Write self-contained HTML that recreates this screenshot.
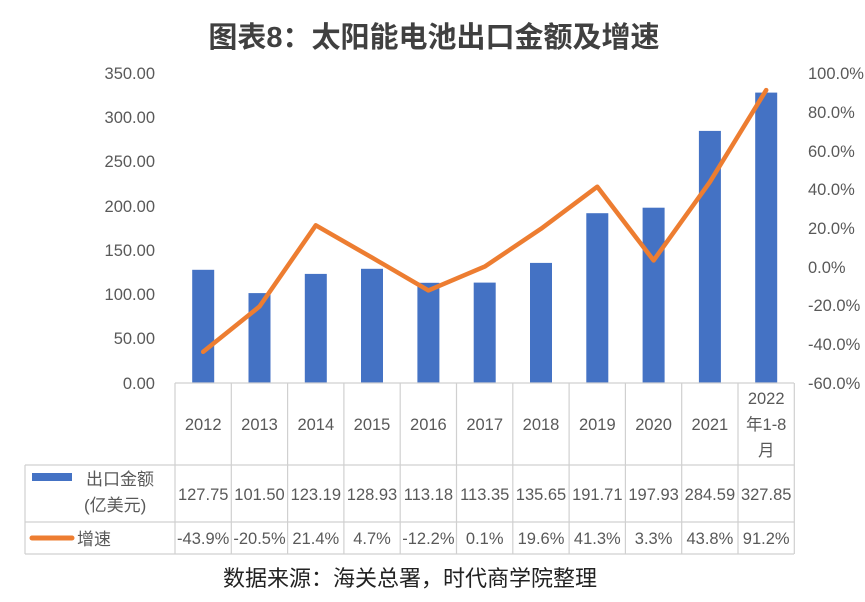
<!DOCTYPE html>
<html><head><meta charset="utf-8"><style>
body{margin:0;background:#fff;}
svg{display:block;font-family:"Liberation Sans","Noto Sans CJK SC",sans-serif;}
</style></head><body>
<svg width="865" height="602" viewBox="0 0 865 602">
<text x="434" y="47" text-anchor="middle" font-size="29" font-weight="bold" fill="#404040">图表8：太阳能电池出口金额及增速</text>
<g font-size="16.5" fill="#595959" text-anchor="end">
<text x="155" y="79">350.00</text><text x="155" y="123">300.00</text><text x="155" y="167">250.00</text><text x="155" y="212">200.00</text><text x="155" y="256">150.00</text><text x="155" y="300">100.00</text><text x="155" y="344">50.00</text><text x="155" y="389">0.00</text>
</g>
<g font-size="16.5" fill="#595959" text-anchor="start">
<text x="808" y="79">100.0%</text><text x="808" y="118">80.0%</text><text x="808" y="157">60.0%</text><text x="808" y="195">40.0%</text><text x="808" y="234">20.0%</text><text x="808" y="273">0.0%</text><text x="808" y="311">-20.0%</text><text x="808" y="350">-40.0%</text><text x="808" y="389">-60.0%</text>
</g>
<g fill="#4472c4">
<rect x="192.2" y="269.8" width="22" height="113.2"/>
<rect x="248.5" y="293.1" width="22" height="89.9"/>
<rect x="304.8" y="273.9" width="22" height="109.1"/>
<rect x="361" y="268.8" width="22" height="114.2"/>
<rect x="417.4" y="282.8" width="22" height="100.2"/>
<rect x="473.7" y="282.6" width="22" height="100.4"/>
<rect x="530" y="262.9" width="22" height="120.1"/>
<rect x="586.3" y="213.2" width="22" height="169.8"/>
<rect x="642.6" y="207.7" width="22" height="175.3"/>
<rect x="698.9" y="130.9" width="22" height="252.1"/>
<rect x="755.2" y="92.6" width="22" height="290.4"/>
</g>
<polyline fill="none" stroke="#ed7d31" stroke-width="4.5" stroke-linejoin="round" stroke-linecap="round" points="203.2,351.8 259.5,306.5 315.8,225.3 372,257.6 428.4,290.4 484.7,266.6 541,228.8 597.3,186.7 653.6,260.4 709.9,181.9 766.2,90.1"/>
<g stroke="#d0d0d0" stroke-width="1.2">
<line x1="175" y1="383" x2="794" y2="383"/>
<line x1="25" y1="465" x2="794" y2="465"/>
<line x1="25" y1="522" x2="794" y2="522"/>
<line x1="25" y1="554" x2="794" y2="554"/>
<line x1="25" y1="465" x2="25" y2="554"/>
<line x1="175" y1="383" x2="175" y2="554"/><line x1="231.3" y1="383" x2="231.3" y2="554"/><line x1="287.6" y1="383" x2="287.6" y2="554"/><line x1="343.9" y1="383" x2="343.9" y2="554"/><line x1="400.2" y1="383" x2="400.2" y2="554"/><line x1="456.5" y1="383" x2="456.5" y2="554"/><line x1="512.8" y1="383" x2="512.8" y2="554"/><line x1="569.1" y1="383" x2="569.1" y2="554"/><line x1="625.4" y1="383" x2="625.4" y2="554"/><line x1="681.7" y1="383" x2="681.7" y2="554"/><line x1="738" y1="383" x2="738" y2="554"/><line x1="794.3" y1="383" x2="794.3" y2="554"/>
</g>
<g font-size="16.5" fill="#595959" text-anchor="middle">
<text x="203.2" y="430">2012</text><text x="259.5" y="430">2013</text><text x="315.8" y="430">2014</text><text x="372" y="430">2015</text><text x="428.4" y="430">2016</text><text x="484.7" y="430">2017</text><text x="541" y="430">2018</text><text x="597.3" y="430">2019</text><text x="653.6" y="430">2020</text><text x="709.9" y="430">2021</text>
<text x="766.2" y="404">2022</text><text x="766.2" y="430">年1-8</text><text x="766.2" y="456">月</text>
<text x="203.2" y="500">127.75</text><text x="259.5" y="500">101.50</text><text x="315.8" y="500">123.19</text><text x="372" y="500">128.93</text><text x="428.4" y="500">113.18</text><text x="484.7" y="500">113.35</text><text x="541" y="500">135.65</text><text x="597.3" y="500">191.71</text><text x="653.6" y="500">197.93</text><text x="709.9" y="500">284.59</text><text x="766.2" y="500">327.85</text>
<text x="203.2" y="544">-43.9%</text><text x="259.5" y="544">-20.5%</text><text x="315.8" y="544">21.4%</text><text x="372" y="544">4.7%</text><text x="428.4" y="544">-12.2%</text><text x="484.7" y="544">0.1%</text><text x="541" y="544">19.6%</text><text x="597.3" y="544">41.3%</text><text x="653.6" y="544">3.3%</text><text x="709.9" y="544">43.8%</text><text x="766.2" y="544">91.2%</text>
</g>
<rect x="32" y="473" width="40" height="8" fill="#4472c4"/>
<g font-size="17" fill="#595959">
<text x="86" y="485">出口金额</text>
<text x="84" y="511">(亿美元)</text>
<text x="77" y="545">增速</text>
</g>
<line x1="32" y1="538" x2="72" y2="538" stroke="#ed7d31" stroke-width="5" stroke-linecap="round"/>
<text x="410" y="586" font-size="22" fill="#222" text-anchor="middle">数据来源：海关总署，时代商学院整理</text>
</svg>
</body></html>
